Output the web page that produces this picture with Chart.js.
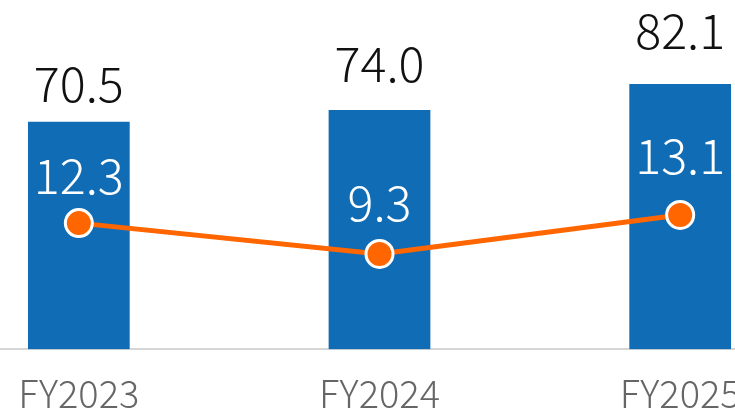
<!DOCTYPE html>
<html>
<head>
<meta charset="utf-8">
<script src="https://cdn.jsdelivr.net/npm/chart.js@4"></script>
<style>
    html, body { margin: 0; padding: 0; background: #fff; }
    #wrap { position: relative; width: 735px; height: 412px; overflow: hidden; }
    #chart { position: absolute; left: -88px; top: 0; }
</style>
</head>
<body>
<div id="wrap"><canvas id="chart" width="935" height="437"></canvas></div>
<script>
const years = ['FY2023', 'FY2024', 'FY2025'];
const barValues = [70.5, 74.0, 82.1];
const lineValues = [12.3, 9.3, 13.1];

// gap between the label baseline and the mark, per category (labels were hand placed)
const barLabelGap = [19, 28, 35];
const lineLabelGap = [29, 33, 41];

const font = "'Noto Sans CJK JP', 'Noto Sans', sans-serif";

const valueLabels = {
    id: 'valueLabels',
    afterDatasetsDraw(chart) {
        const ctx = chart.ctx;
        ctx.save();
        ctx.font = '300 48.5px ' + font;
        ctx.textAlign = 'center';
        ctx.textBaseline = 'alphabetic';

        chart.getDatasetMeta(1).data.forEach((bar, i) => {
            ctx.fillStyle = '#111';
            ctx.fillText(barValues[i].toFixed(1), bar.x, bar.y - barLabelGap[i]);
        });
        chart.getDatasetMeta(0).data.forEach((pt, i) => {
            ctx.fillStyle = '#fff';
            ctx.fillText(lineValues[i].toFixed(1), pt.x, pt.y - lineLabelGap[i]);
        });
        ctx.restore();
    }
};

const ctx = document.getElementById('chart').getContext('2d');
new Chart(ctx, {
    data: {
        labels: years,
        datasets: [{
            type: 'line',
            data: lineValues,
            yAxisID: 'y1',
            order: 0,
            borderColor: '#ff6600',
            borderWidth: 5,
            pointRadius: 13.5,
            pointBackgroundColor: '#ff6600',
            pointBorderColor: '#fff',
            pointBorderWidth: 3,
            tension: 0
        }, {
            type: 'bar',
            data: barValues,
            yAxisID: 'y',
            order: 1,
            backgroundColor: '#106cb4',
            borderColor: 'rgba(255,255,255,0.35)',
            borderWidth: { left: 1, right: 1, top: 0, bottom: 0 },
            categoryPercentage: 1,
            barPercentage: 0.345
        }]
    },
    options: {
        responsive: false,
        devicePixelRatio: 1,
        animation: false,
        layout: { padding: { top: 26, bottom: 0, left: 0, right: 0 } },
        plugins: {
            legend: { display: false },
            tooltip: { enabled: false }
        },
        scales: {
            x: {
                grid: { display: false, drawTicks: false },
                border: { display: true, color: '#d6d6d6', width: 2 },
                ticks: {
                    color: '#666',
                    padding: 21,
                    font: { family: font, size: 38, weight: '300' }
                }
            },
            y: { display: false, min: 0, max: 100 },
            y1: { display: false, min: 0, max: 31.5 }
        }
    },
    plugins: [valueLabels]
});
</script>
</body>
</html>
